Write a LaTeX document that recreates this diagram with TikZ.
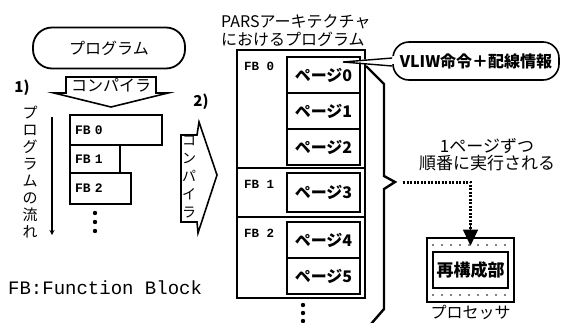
\documentclass[tikz,border=0pt]{standalone}
\usepackage{fontspec}
\setmainfont{Noto Sans CJK JP}
\newfontfamily\fbfont{Liberation Mono}
\usetikzlibrary{arrows, arrows.meta, positioning}
\newcommand{\fsz}[1]{\fontsize{#1}{#1}\selectfont}
\tikzstyle{program} = [draw, line width=1.8pt, rounded corners=19pt, minimum width=152pt, minimum height=41pt, font=\fsz{16}]
\tikzstyle{fbbox} = [draw, line width=2.2pt, outer sep=0pt, inner sep=5pt, align=left, font=\fbfont\bfseries\fsz{13}]
\tikzstyle{section} = [draw, line width=2.6pt, outer sep=0pt, minimum width=128pt]
\tikzstyle{fblabel} = [anchor=west, inner sep=0pt, font=\fbfont\bfseries\fsz{12.5}]
\tikzstyle{pagebox} = [draw, line width=1.8pt, outer sep=0pt, minimum width=73pt, minimum height=36pt, font=\bfseries\fsz{16}]
\tikzstyle{callout} = [draw, line width=1.6pt, rounded corners=16pt, fill=white, minimum width=166pt, minimum height=38pt, font=\bfseries\fsz{16}]
\tikzstyle{compiler} = [draw, line width=1.6pt, line join=miter]
\tikzstyle{flow} = [line width=1.2pt, ->, >=stealth]
\tikzstyle{brace} = [line width=2.4pt]
\tikzstyle{order} = [line width=3pt, dash pattern=on 2pt off 1.5pt, shorten <=8pt]
\tikzstyle{orderhead} = [-{Triangle[width=15pt,length=16pt]}, line width=1pt, shorten >=-9pt]
\tikzstyle{proc} = [draw, line width=2.6pt, minimum width=87pt, minimum height=64pt]
\tikzstyle{reconf} = [draw, line width=2.4pt, minimum width=75pt, minimum height=36pt, font=\bfseries\fsz{17}]
\tikzstyle{plain} = [inner sep=0pt, font=\fsz{16}]
\tikzstyle{vtext} = [inner sep=0pt, align=center]

\begin{document}
\begin{tikzpicture}[x=1pt, y=-1pt, node distance=0pt]
    \useasboundingbox (0,0) rectangle (565,322);

    \node[program] (prog) at (109,48) {プログラム};
    \node[plain, font=\bfseries\fsz{15}] (step1) at (22,88) {1)};
    \draw[compiler] (66,77) -- (156,77) -- (156,93) -- (168,93) -- (111,107) -- (54,93) -- (66,93) -- cycle;
    \node[plain] (comp1) at (111,85) {コンパイラ};

    \node[vtext, font={\fontsize{15}{17}\selectfont}] (flowtxt) at (30,172) {プ\\ロ\\グ\\ラ\\ム\\の\\流\\れ};
    \coordinate (flowtop) at (52,117);
    \coordinate (flowend) at (52,235);
    \draw[flow] (flowtop) -- (flowend);

    \node[fbbox, text width=82pt, minimum height=30pt, anchor=north west] (fb0) at (70,115) {FB 0};
    \node[fbbox, text width=40pt, minimum height=28pt, below=of fb0.south west, anchor=north west] (fb1) {FB 1};
    \node[fbbox, text width=51pt, minimum height=31pt, below=of fb1.south west, anchor=north west] (fb2) {FB 2};
    \foreach \y in {213,222,231} \fill (95,\y) circle (2.2pt);

    \node[plain, font=\fbfont\fsz{19}, anchor=west] (legend) at (8,288) {FB:Function Block};

    \node[plain, font=\bfseries\fsz{15}] (step2) at (201,102) {2)};
    \draw[compiler] (181,135) -- (197,135) -- (199,122) -- (217,175) -- (198,233) -- (197,222) -- (181,222) -- cycle;
    \node[vtext, font={\fontsize{14}{18}\selectfont}] (comp2) at (189,177) {コ\\ン\\パ\\イ\\ラ};

    \node[plain, align=left, anchor=west, font={\fontsize{16}{18}\selectfont}] (title) at (221,31) {PARSアーキテクチャ\\におけるプログラム};

    \node[section, minimum height=118pt, anchor=north west] (sec0) at (237,50) {};
    \node[section, minimum height=49pt, below=of sec0.south west, anchor=north west] (sec1) {};
    \node[section, minimum height=81pt, below=of sec1.south west, anchor=north west] (sec2) {};
    \node[fblabel] (lbl0) at ([shift={(7,16)}]sec0.north west) {FB 0};
    \node[fblabel] (lbl1) at ([shift={(7,16)}]sec1.north west) {FB 1};
    \node[fblabel] (lbl2) at ([shift={(7,16)}]sec2.north west) {FB 2};

    \node[pagebox, anchor=north west] (page0) at (287,57) {ページ0};
    \node[pagebox, below=of page0] (page1) {ページ1};
    \node[pagebox, below=of page1] (page2) {ページ2};
    \node[pagebox, minimum height=39pt, anchor=north west] (page3) at (287,173) {ページ3};
    \node[pagebox, anchor=north west] (page4) at (287,222) {ページ4};
    \node[pagebox, below=of page4] (page5) {ページ5};
    \foreach \y in {305,313,321} \fill (303,\y) circle (2.2pt);

    \node[callout] (vliw) at (476,61) {VLIW命令＋配線情報};
    \coordinate (tip) at (343,62);
    \fill[white] (tip) -- ([shift={(3,-5)}]vliw.west) -- ([shift={(3,3)}]vliw.west) -- cycle;
    \draw[line width=1.4pt] ([yshift=-5]vliw.west) -- (tip) -- ([yshift=3]vliw.west);

    \coordinate (bracetip) at (395,182);
    \draw[brace] (366,66) -- (384,84) -- (384,176) -- (bracetip) -- (384,189) -- (384,309) -- (371,324);

    \node[plain, align=center, font={\fontsize{17}{17}\selectfont}] (note) at (487,155) {1ページずつ\\順番に実行される};

    \node[proc] (cpu) at (470.5,270) {};
    \node[reconf] (recon) at (cpu.center) {再構成部};
    \foreach \x in {433,442,...,509} {
        \fill (\x,245) circle (0.8pt);
        \fill (\x,295) circle (0.8pt);
    }
    \node[plain, anchor=north] (cpulbl) at ([yshift=-2pt]cpu.south) {プロセッサ};
    \draw[order] (bracetip) -| (cpu.north);
    \draw[orderhead] ([yshift=12pt]cpu.north) -- (cpu.north);
\end{tikzpicture}
\end{document}
